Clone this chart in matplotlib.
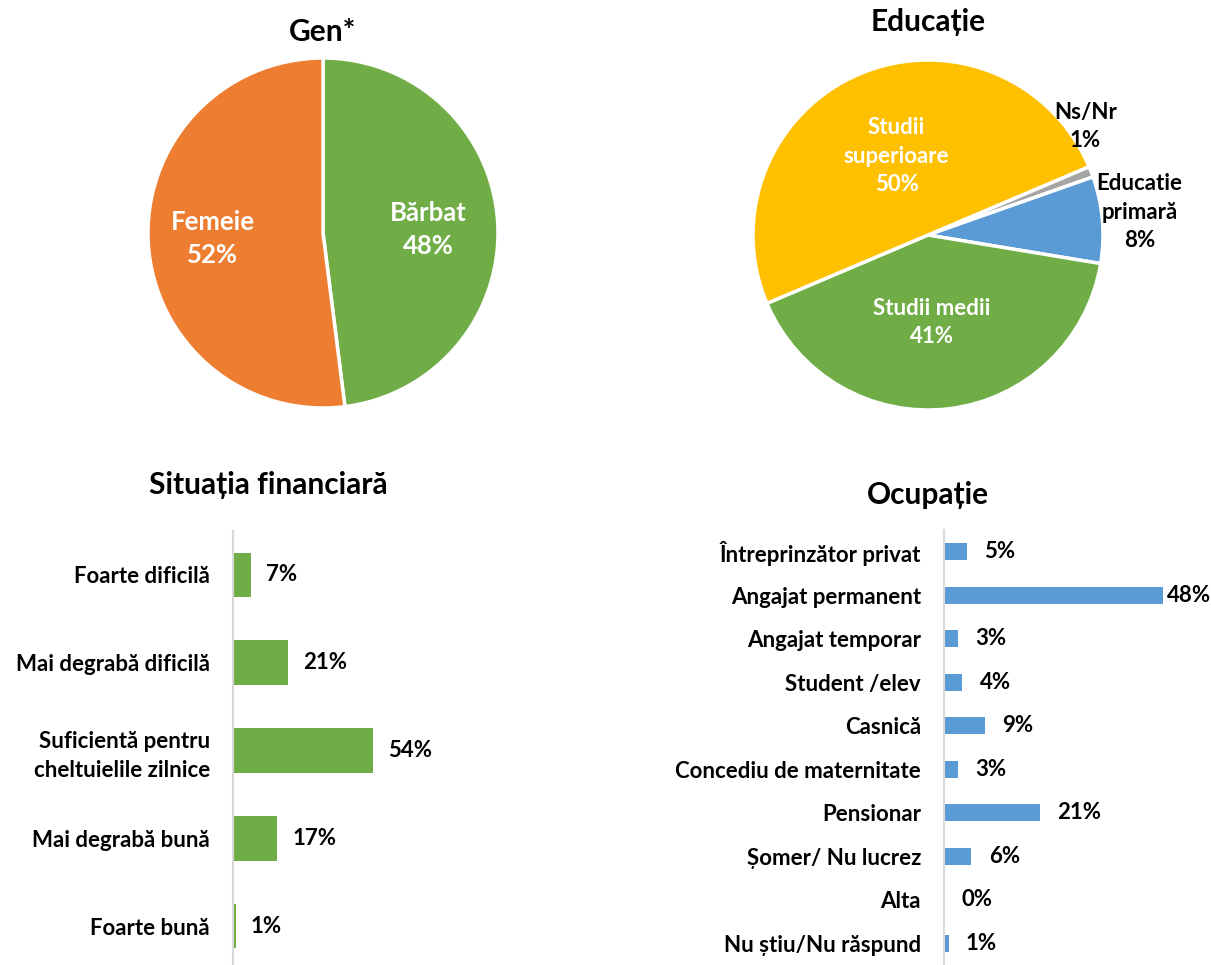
import matplotlib
matplotlib.use("Agg")
import matplotlib.pyplot as plt

plt.rcParams['font.family'] = ['Lato', 'DejaVu Sans']
plt.rcParams['font.weight'] = 'bold'

# --- data ---
gen_labels = ['Bărbat', 'Femeie']
gen_values = [48, 52]

edu_labels = ['Ns/Nr', 'Educatie\nprimară', 'Studii medii', 'Studii\nsuperioare']
edu_values = [1, 8, 41, 50]

fin_labels = ['Foarte dificilă', 'Mai degrabă dificilă', 'Suficientă pentru\ncheltuielile zilnice',
              'Mai degrabă bună', 'Foarte bună']
fin_values = [7, 21, 54, 17, 1]

ocu_labels = ['Întreprinzător privat', 'Angajat permanent', 'Angajat temporar', 'Student /elev',
              'Casnică', 'Concediu de maternitate', 'Pensionar', 'Șomer/ Nu lucrez', 'Alta',
              'Nu știu/Nu răspund']
ocu_values = [5, 48, 3, 4, 9, 3, 21, 6, 0, 1]

GREEN = '#70AD47'
ORANGE = '#ED7D31'
YELLOW = '#FFC000'
BLUE = '#5B9BD5'
GRAY = '#A5A5A5'

W, H = 1211, 965
fig = plt.figure(figsize=(W / 100, H / 100), dpi=100)


def px_axes(x0, y0, x1, y1):
    # pixel box (top-left origin) -> figure axes
    return fig.add_axes([x0 / W, 1 - y1 / H, (x1 - x0) / W, (y1 - y0) / H])


# Gen pie
R = 175
ax = px_axes(323 - R, 233 - R, 323 + R, 233 + R)
ax.pie(gen_values, colors=[GREEN, ORANGE], startangle=90, counterclock=False,
       wedgeprops=dict(edgecolor='white', linewidth=2.5))
ax.set_xlim(-1, 1)
ax.set_ylim(-1, 1)
ax.text(0.60, 0.02, f'{gen_labels[0]}\n{gen_values[0]}%', color='white', fontsize=18.5,
        ha='center', va='center', linespacing=1.47)
ax.text(-0.63, -0.03, f'{gen_labels[1]}\n{gen_values[1]}%', color='white', fontsize=18.5,
        ha='center', va='center', linespacing=1.47)
fig.text(323 / W, 1 - 32 / H, 'Gen*', fontsize=21.5, ha='center', va='center')

# Educatie pie
ax = px_axes(928 - R, 235 - R, 928 + R, 235 + R)
ax.pie(edu_values, colors=[GRAY, BLUE, GREEN, YELLOW], startangle=23, counterclock=False,
       wedgeprops=dict(edgecolor='white', linewidth=2.5))
ax.set_xlim(-1, 1)
ax.set_ylim(-1, 1)
edu_pos = [(0.90, 0.62), (1.21, 0.13), (0.02, -0.50), (-0.18, 0.45)]
edu_col = ['black', 'black', 'white', 'white']
for lab, v, (x, y), c in zip(edu_labels, edu_values, edu_pos, edu_col):
    ax.text(x, y, f'{lab}\n{v}%', color=c, fontsize=16, ha='center', va='center',
            linespacing=1.45, clip_on=False)
fig.text(928 / W, 1 - 22 / H, 'Educație', fontsize=21.5, ha='center', va='center')


def bar_panel(box, labels, values, color, xmax, height, off, cap=None):
    ax = px_axes(*box)
    ys = list(range(len(labels)))
    ax.barh(ys, values, height=height, color=color)
    ax.set_ylim(len(labels) - 0.5, -0.5)
    ax.set_xlim(0, xmax)
    ax.set_yticks(ys)
    ax.set_yticklabels(labels, fontsize=16, ha='right', linespacing=1.45)
    ax.tick_params(axis='y', length=0, pad=16.5)
    ax.set_xticks([])
    for s in ['top', 'right', 'bottom']:
        ax.spines[s].set_visible(False)
    ax.spines['left'].set_color('#D9D9D9')
    ax.spines['left'].set_linewidth(1.5)
    for y, v in zip(ys, values):
        x = v + off
        if cap is not None:
            x = min(x, cap)
        ax.text(x, y, f'{v}%', fontsize=16, ha='left', va='center', clip_on=False)
    return ax


bar_panel((233, 531, 460, 970), fin_labels, fin_values, GREEN, 87.3, 0.51, 5.8)
fig.text(268 / W, 1 - 485 / H, 'Situația financiară', fontsize=21.5, ha='center', va='center')

bar_panel((944, 530, 1211, 965), ocu_labels, ocu_values, BLUE, 58.6, 0.4, 3.8, cap=48.9)
fig.text(928 / W, 1 - 495 / H, 'Ocupație', fontsize=21.5, ha='center', va='center')

fig.savefig('out.png', dpi=100)
